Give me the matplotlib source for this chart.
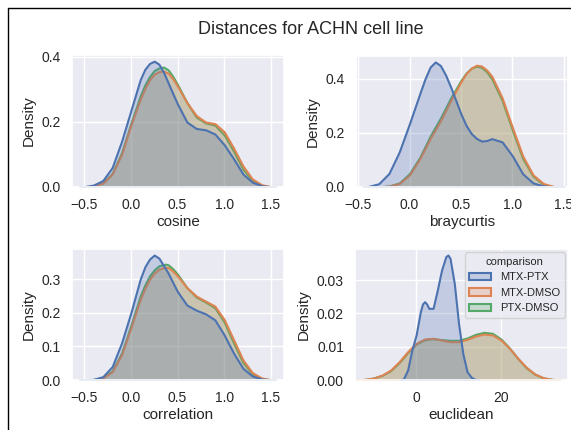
import matplotlib
matplotlib.use("Agg")
from matplotlib import pyplot as plt
from matplotlib.patches import Patch
from matplotlib.lines import Line2D
import seaborn as sns

# kde curves (density at x)
cos_x = [-0.55, -0.5, -0.4, -0.3, -0.2, -0.1, 0.0, 0.1, 0.15, 0.2, 0.25, 0.3, 0.35, 0.4, 0.45, 0.5, 0.6, 0.7, 0.8, 0.9, 1.0, 1.1, 1.2, 1.3, 1.4, 1.5, 1.55]
cos_mtx_ptx = [0.0, 0.001, 0.006, 0.02, 0.06, 0.14, 0.235, 0.33, 0.362, 0.38, 0.387, 0.378, 0.353, 0.32, 0.287, 0.255, 0.2, 0.18, 0.176, 0.163, 0.13, 0.087, 0.04, 0.015, 0.004, 0.0005, 0.0]
cos_mtx_dmso = [0.0, 0.0, 0.003, 0.012, 0.04, 0.1, 0.19, 0.27, 0.303, 0.33, 0.347, 0.355, 0.357, 0.35, 0.333, 0.31, 0.26, 0.22, 0.2, 0.195, 0.17, 0.12, 0.065, 0.025, 0.007, 0.001, 0.0]
cos_ptx_dmso = [0.0, 0.0, 0.003, 0.013, 0.042, 0.105, 0.195, 0.28, 0.314, 0.34, 0.358, 0.366, 0.369, 0.36, 0.34, 0.315, 0.26, 0.215, 0.197, 0.19, 0.16, 0.11, 0.055, 0.02, 0.005, 0.0008, 0.0]

bray_x = [-0.45, -0.4, -0.3, -0.2, -0.1, 0.0, 0.1, 0.15, 0.2, 0.25, 0.3, 0.35, 0.4, 0.5, 0.55, 0.6, 0.65, 0.7, 0.75, 0.8, 0.9, 1.0, 1.1, 1.2, 1.3, 1.4, 1.5]
bray_mtx_ptx = [0.0, 0.002, 0.012, 0.05, 0.13, 0.235, 0.346, 0.4, 0.444, 0.463, 0.45, 0.415, 0.37, 0.27, 0.228, 0.198, 0.18, 0.17, 0.172, 0.179, 0.167, 0.115, 0.049, 0.015, 0.004, 0.0, 0.0]
bray_mtx_dmso = [0.0, 0.0, 0.0005, 0.003, 0.013, 0.045, 0.105, 0.142, 0.18, 0.212, 0.245, 0.282, 0.32, 0.39, 0.42, 0.44, 0.451, 0.448, 0.433, 0.41, 0.33, 0.22, 0.115, 0.045, 0.013, 0.002, 0.0]
bray_ptx_dmso = [0.0, 0.0, 0.0006, 0.004, 0.015, 0.05, 0.11, 0.149, 0.188, 0.222, 0.255, 0.292, 0.33, 0.395, 0.422, 0.44, 0.447, 0.443, 0.426, 0.4, 0.32, 0.21, 0.105, 0.04, 0.01, 0.0015, 0.0]

corr_x = [-0.55, -0.5, -0.4, -0.3, -0.2, -0.1, 0.0, 0.1, 0.15, 0.2, 0.25, 0.3, 0.37, 0.4, 0.45, 0.5, 0.6, 0.7, 0.8, 0.9, 1.0, 1.1, 1.2, 1.3, 1.4, 1.5, 1.55]
corr_mtx_ptx = [0.0, 0.0005, 0.002, 0.01, 0.04, 0.11, 0.2, 0.3, 0.337, 0.36, 0.372, 0.363, 0.332, 0.318, 0.29, 0.263, 0.223, 0.208, 0.197, 0.179, 0.134, 0.08, 0.035, 0.012, 0.003, 0.0005, 0.0]
corr_mtx_dmso = [0.0, 0.0, 0.001, 0.006, 0.025, 0.075, 0.155, 0.24, 0.273, 0.3, 0.318, 0.33, 0.336, 0.335, 0.324, 0.31, 0.275, 0.25, 0.235, 0.22, 0.18, 0.12, 0.06, 0.022, 0.006, 0.001, 0.0]
corr_ptx_dmso = [0.0, 0.0, 0.0012, 0.007, 0.027, 0.08, 0.162, 0.25, 0.283, 0.31, 0.328, 0.34, 0.345, 0.343, 0.331, 0.315, 0.275, 0.247, 0.232, 0.215, 0.172, 0.11, 0.052, 0.018, 0.004, 0.0007, 0.0]

euc_blue_x = [-4, -3, -2, -1, 0, 1, 1.5, 2, 2.5, 3, 4, 5, 6, 7, 7.5, 8, 9, 10, 11, 12, 13, 14, 15]
euc_mtx_ptx = [0.0, 0.0003, 0.003, 0.009, 0.0135, 0.0205, 0.0228, 0.0235, 0.0228, 0.0215, 0.0215, 0.027, 0.033, 0.037, 0.0375, 0.0365, 0.029, 0.017, 0.008, 0.0025, 0.0008, 0.0001, 0.0]
euc_x = [-14, -12, -10, -8, -6, -4, -2, 0, 2, 4, 6, 8, 10, 12, 14, 16, 18, 20, 22, 24, 26, 28, 30, 32, 34]
euc_mtx_dmso = [0.0, 0.0002, 0.0006, 0.0015, 0.003, 0.0055, 0.0085, 0.011, 0.0123, 0.0125, 0.012, 0.0115, 0.0115, 0.0122, 0.0132, 0.0138, 0.0135, 0.012, 0.0095, 0.0065, 0.0038, 0.0018, 0.0007, 0.0002, 0.0]
euc_ptx_dmso = [0.0, 0.0002, 0.0006, 0.0014, 0.0028, 0.0052, 0.0082, 0.0108, 0.0121, 0.0124, 0.0121, 0.0119, 0.0119, 0.0126, 0.0137, 0.0143, 0.014, 0.0123, 0.0096, 0.0064, 0.0036, 0.0017, 0.0006, 0.0002, 0.0]

labels = ["MTX-PTX", "MTX-DMSO", "PTX-DMSO"]

sns.set_theme(style="darkgrid")
plt.rcParams["font.family"] = ["Liberation Sans", "DejaVu Sans"]
cols = sns.color_palette("deep")[:3]

fig = plt.figure(figsize=(5.71, 4.3), dpi=100)
W, H = 571, 430

def mkax(l, t, r, b):
    return fig.add_axes([l / W, 1 - b / H, (r - l) / W, (b - t) / H])

ax1 = mkax(72, 55, 284, 187)
ax2 = mkax(356, 56, 568, 187)
ax3 = mkax(72, 249, 284, 380)
ax4 = mkax(355, 249, 568, 380)

panels = [
    (ax1, "cosine", [(cos_x, cos_mtx_ptx), (cos_x, cos_mtx_dmso), (cos_x, cos_ptx_dmso)]),
    (ax2, "braycurtis", [(bray_x, bray_mtx_ptx), (bray_x, bray_mtx_dmso), (bray_x, bray_ptx_dmso)]),
    (ax3, "correlation", [(corr_x, corr_mtx_ptx), (corr_x, corr_mtx_dmso), (corr_x, corr_ptx_dmso)]),
    (ax4, "euclidean", [(euc_blue_x, euc_mtx_ptx), (euc_x, euc_mtx_dmso), (euc_x, euc_ptx_dmso)]),
]

for ax, name, curves in panels:
    # seaborn layers the hue levels backwards, first one ends up on top
    for (xs, ys), c in reversed(list(zip(curves, cols))):
        ax.fill_between(xs, 0, ys, facecolor=(*c, 0.25), edgecolor=c, linewidth=1.5)
    ax.set_xlabel(name, fontsize=11, labelpad=2)
    ax.set_ylabel("Density", fontsize=11, labelpad=4)
    ax.tick_params(labelsize=10, pad=2)

for ax in (ax1, ax3):
    ax.set_xlim(-0.63, 1.64)
    ax.set_xticks([-0.5, 0.0, 0.5, 1.0, 1.5])
ax2.set_xlim(-0.52, 1.54)
ax2.set_xticks([-0.5, 0.0, 0.5, 1.0, 1.5])
ax1.set_ylim(0, 0.406)
ax1.set_yticks([0.0, 0.2, 0.4])
ax2.set_ylim(0, 0.485)
ax2.set_yticks([0.0, 0.2, 0.4])
ax3.set_ylim(0, 0.39)
ax3.set_yticks([0.0, 0.1, 0.2, 0.3])
ax4.set_xlim(-14.4, 35.8)
ax4.set_xticks([0, 20])
ax4.set_ylim(0, 0.0393)
ax4.set_yticks([0.0, 0.01, 0.02, 0.03])
ax4.set_yticklabels(["0.00", "0.01", "0.02", "0.03"])

handles = [Patch(facecolor=(*c, 0.25), edgecolor=c, linewidth=1.5) for c in cols]
ax4.legend(handles, labels, title="comparison", loc="upper right", fontsize=8,
           title_fontsize=8, borderaxespad=0.3, handlelength=2.0)

fig.suptitle("Distances for ACHN cell line", x=311 / W, y=1 - 30 / H, va="center", fontsize=13)

# frame from the original page
fig.add_artist(Line2D([8 / W, 8 / W], [0, 1 - 8 / H], color="black", linewidth=1))
fig.add_artist(Line2D([8 / W, 1], [1 - 8 / H, 1 - 8 / H], color="black", linewidth=1))

fig.savefig("out.png", dpi=100, facecolor="white")
